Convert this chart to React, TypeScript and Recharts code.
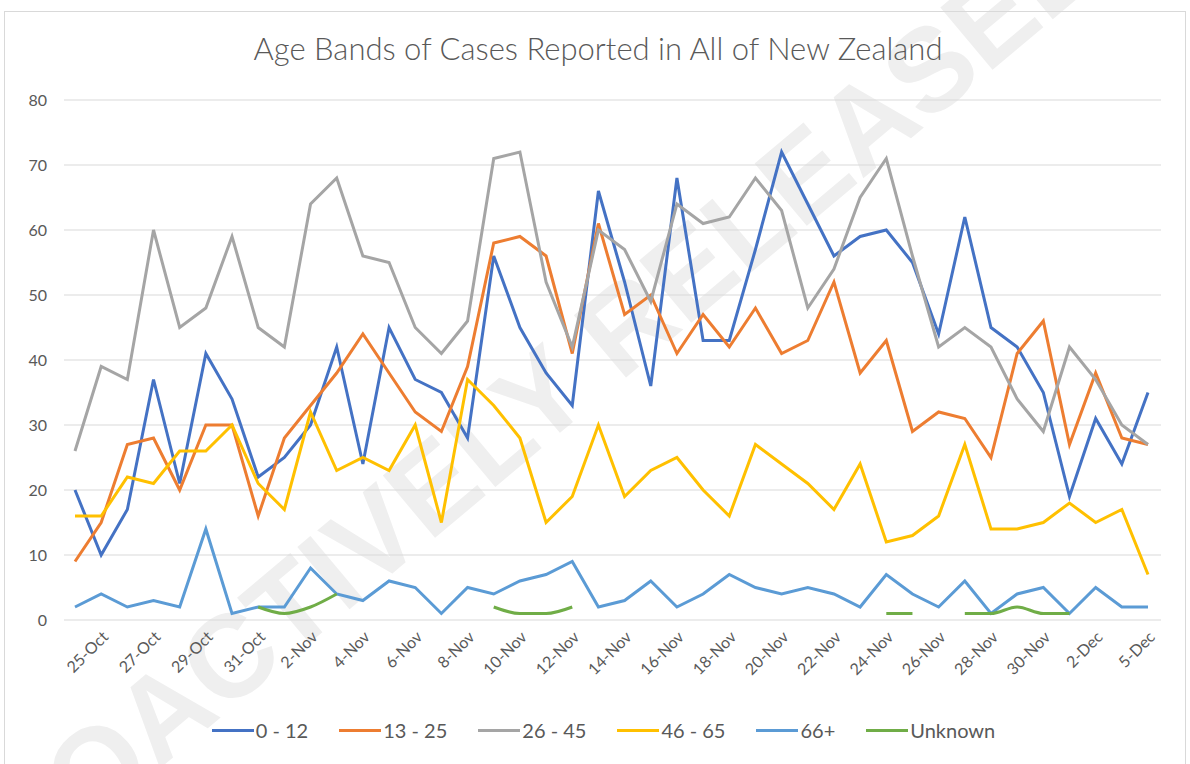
import React from "react";
import { LineChart, Line, XAxis, YAxis, CartesianGrid } from "recharts";

// one point per reported day; labels show on every second one
const dates = [
  "24-Oct", "25-Oct", "26-Oct", "27-Oct", "28-Oct", "29-Oct", "30-Oct", "31-Oct",
  "1-Nov", "2-Nov", "3-Nov", "4-Nov", "5-Nov", "6-Nov", "7-Nov", "8-Nov", "9-Nov",
  "10-Nov", "11-Nov", "12-Nov", "13-Nov", "14-Nov", "15-Nov", "16-Nov", "17-Nov",
  "18-Nov", "19-Nov", "20-Nov", "21-Nov", "22-Nov", "23-Nov", "24-Nov", "25-Nov",
  "26-Nov", "27-Nov", "28-Nov", "29-Nov", "30-Nov", "1-Dec", "2-Dec", "4-Dec", "5-Dec",
];

const age0to12 = [
  20, 10, 17, 37, 21, 41, 34, 22, 25, 30, 42, 24, 45, 37, 35, 28, 56, 45, 38, 33, 66,
  52, 36, 68, 43, 43, 57, 72, 64, 56, 59, 60, 55, 44, 62, 45, 42, 35, 19, 31, 24, 35,
];
const age13to25 = [
  9, 15, 27, 28, 20, 30, 30, 16, 28, 33, 38, 44, 38, 32, 29, 39, 58, 59, 56, 41, 61,
  47, 50, 41, 47, 42, 48, 41, 43, 52, 38, 43, 29, 32, 31, 25, 41, 46, 27, 38, 28, 27,
];
const age26to45 = [
  26, 39, 37, 60, 45, 48, 59, 45, 42, 64, 68, 56, 55, 45, 41, 46, 71, 72, 52, 42, 60,
  57, 49, 64, 61, 62, 68, 63, 48, 54, 65, 71, 56, 42, 45, 42, 34, 29, 42, 37, 30, 27,
];
const age46to65 = [
  16, 16, 22, 21, 26, 26, 30, 21, 17, 32, 23, 25, 23, 30, 15, 37, 33, 28, 15, 19, 30,
  19, 23, 25, 20, 16, 27, 24, 21, 17, 24, 12, 13, 16, 27, 14, 14, 15, 18, 15, 17, 7,
];
const age66plus = [
  2, 4, 2, 3, 2, 14, 1, 2, 2, 8, 4, 3, 6, 5, 1, 5, 4, 6, 7, 9, 2,
  3, 6, 2, 4, 7, 5, 4, 5, 4, 2, 7, 4, 2, 6, 1, 4, 5, 1, 5, 2, 2,
];
const unknown = [
  null, null, null, null, null, null, null, 2, 1, 2, 4, null, null, null, null, null, 2, 1, 1, 2, null,
  null, null, null, null, null, null, null, null, null, null, 1, 1, null, 1, 1, 2, 1, 1, null, null, null,
];

const yTicks = [0, 10, 20, 30, 40, 50, 60, 70, 80];

const series = [
  { key: "a", name: "0 - 12", color: "#4472C4", values: age0to12 },
  { key: "b", name: "13 - 25", color: "#ED7D31", values: age13to25 },
  { key: "c", name: "26 - 45", color: "#A5A5A5", values: age26to45 },
  { key: "d", name: "46 - 65", color: "#FFC000", values: age46to65 },
  { key: "e", name: "66+", color: "#5B9BD5", values: age66plus },
  { key: "f", name: "Unknown", color: "#70AD47", values: unknown },
];

const data = dates.map((d, i) => {
  const row: Record<string, any> = { date: d };
  series.forEach((s) => (row[s.key] = s.values[i]));
  return row;
});

const font = "Lato, 'Open Sans', sans-serif";
const ink = "#595959";

function Legend() {
  return (
    <div style={{
      position: "absolute", top: 718, left: 0, width: 1207,
      display: "flex", justifyContent: "center", gap: 31,
      fontFamily: font, fontSize: 20, color: ink,
    }}>
      {series.map((s) => (
        <div key={s.key} style={{ display: "flex", alignItems: "center" }}>
          <span style={{ width: 42, height: 3, background: s.color, marginRight: 2 }} />
          {s.name}
        </div>
      ))}
    </div>
  );
}

export default function App() {
  return (
    <div style={{ position: "absolute", left: 0, top: 0, width: 1190, height: 764, background: "#fff", overflow: "hidden" }}>
      {/* document watermark, runs off the page like in the source */}
      <svg width={1190} height={764} style={{ position: "absolute", left: 0, top: 0 }}>
        <text
          x={537} y={452}
          transform="rotate(-40 537 452)"
          textAnchor="middle"
          fontFamily="'Liberation Sans', Arial, sans-serif"
          fontWeight="bold"
          fontSize={118}
          fill="#efefef"
        >
          PROACTIVELY RELEASED
        </text>
      </svg>
      <div style={{ position: "absolute", left: 4, top: 11, width: 1180, height: 780, border: "1px solid #d9d9d9" }} />
      <div style={{
        position: "absolute", top: 29, left: 0, width: 1196, textAlign: "center",
        fontFamily: font, fontSize: 31, fontWeight: 300, color: ink,
      }}>
        Age Bands of Cases Reported in All of New Zealand
      </div>
      <div style={{ position: "absolute", left: 0, top: 0 }}>
        <LineChart width={1190} height={764} data={data} margin={{ top: 100, right: 29, bottom: 54, left: 0 }}>
          <CartesianGrid vertical={false} stroke="#d9d9d9" strokeWidth={1} />
          <XAxis
            dataKey="date"
            interval={0}
            tickFormatter={(v: string, i: number) => (i % 2 === 1 ? v : "")}
            angle={-45}
            textAnchor="end"
            axisLine={false}
            tickLine={false}
            tickSize={0}
            tickMargin={10}
            height={90}
            padding={{ left: 11, right: 13 }}
            tick={{ fontSize: 16, fill: ink, fontFamily: font }}
          />
          <YAxis
            domain={[0, 80]}
            ticks={yTicks}
            width={64}
            axisLine={false}
            tickLine={false}
            tickSize={0}
            tickMargin={17}
            tick={{ fontSize: 16, fill: ink, fontFamily: font }}
          />
          {series.map((s) => (
            <Line
              key={s.key}
              dataKey={s.key}
              name={s.name}
              type={s.key === "f" ? "monotone" : "linear"}
              stroke={s.color}
              strokeWidth={3}
              dot={false}
              isAnimationActive={false}
            />
          ))}
        </LineChart>
      </div>
      <Legend />
    </div>
  );
}
